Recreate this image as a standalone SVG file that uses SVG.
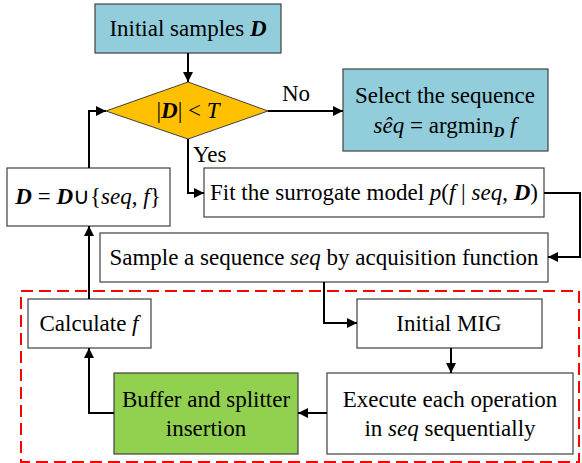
<svg xmlns="http://www.w3.org/2000/svg" width="582" height="463" viewBox="0 0 582 463">
<defs>
<marker id="ah" viewBox="0 0 10 10" refX="10" refY="5" markerWidth="10" markerHeight="10" markerUnits="userSpaceOnUse" orient="auto">
<path d="M0,0 L10,5 L0,10 Z" fill="#000"/>
</marker>
<style>
.box{stroke:#404040;stroke-width:1.2;fill:#fff}
.blue{fill:#92CDDC}
.green{fill:#92D050}
.t{font-family:"Liberation Serif","Times New Roman",serif;font-size:23px;fill:#000;text-anchor:middle}
.lb{font-family:"Liberation Serif","Times New Roman",serif;font-size:23px;fill:#000}
.i{font-style:italic}
.bi{font-style:italic;font-weight:bold}
.c{fill:none;stroke:#000;stroke-width:2}
</style>
</defs>
<rect x="21" y="291" width="558" height="171" fill="none" stroke="#FF0000" stroke-width="2" stroke-dasharray="12,6"/>
<g id="init">
<rect class="box blue" x="95" y="4" width="186" height="49"/>
<text class="t" x="188" y="36">Initial samples <tspan class="bi">D</tspan></text>
</g>
<g id="cond">
<polygon points="188,82 268,111 188,139 106,111" fill="#FFC000" stroke="#404040" stroke-width="1"/>
<text class="t" x="188" y="118">|<tspan class="bi">D</tspan>| &lt; <tspan class="i">T</tspan></text>
</g>
<g id="select">
<rect class="box blue" x="343" y="69" width="205" height="82"/>
<text class="t" x="445" y="103">Select the sequence</text>
<text class="t" x="445" y="133"><tspan class="i">se&#770;q</tspan> = argmin<tspan class="bi" font-size="15" dy="4">D</tspan><tspan dy="-4"> </tspan><tspan class="i">f</tspan></text>
</g>
<g id="update">
<rect class="box" x="7" y="168" width="163" height="58"/>
<text class="t" x="88" y="204"><tspan class="bi">D</tspan> = <tspan class="bi">D</tspan>∪{<tspan class="i">seq</tspan>, <tspan class="i">f</tspan>}</text>
</g>
<g id="fit">
<rect class="box" x="204" y="168" width="340" height="49"/>
<text class="t" x="374" y="200">Fit the surrogate model <tspan class="i">p</tspan>(<tspan class="i">f</tspan> | <tspan class="i">seq</tspan>, <tspan class="bi">D</tspan>)</text>
</g>
<g id="sample">
<rect class="box" x="100" y="233" width="448" height="49"/>
<text class="t" x="324" y="265">Sample a sequence <tspan class="i">seq</tspan> by acquisition function</text>
</g>
<g id="calc">
<rect class="box" x="28" y="299" width="123" height="49"/>
<text class="t" x="89" y="331">Calculate <tspan class="i">f</tspan></text>
</g>
<g id="mig">
<rect class="box" x="357" y="299" width="185" height="49"/>
<text class="t" x="449" y="331">Initial MIG</text>
</g>
<g id="exec">
<rect class="box" x="327" y="373" width="246" height="81"/>
<text class="t" x="450" y="407">Execute each operation</text>
<text class="t" x="450" y="436">in <tspan class="i">seq</tspan> sequentially</text>
</g>
<g id="buffer">
<rect class="box green" x="114" y="373" width="184" height="81"/>
<text class="t" x="206" y="407">Buffer and splitter</text>
<text class="t" x="206" y="436">insertion</text>
</g>
<g id="connectors">
<path class="c" d="M188,53 V82" marker-end="url(#ah)"/>
<path class="c" d="M268,111 H343" marker-end="url(#ah)"/>
<text class="lb" x="282" y="101">No</text>
<path class="c" d="M188,139 V193 H204" marker-end="url(#ah)"/>
<text class="lb" x="193" y="162">Yes</text>
<path class="c" d="M89,168 V111 H106" marker-end="url(#ah)"/>
<path class="c" d="M544,193 H580 V257 H548" marker-end="url(#ah)"/>
<path class="c" d="M324,282 V323 H357" marker-end="url(#ah)"/>
<path class="c" d="M451,348 V373" marker-end="url(#ah)"/>
<path class="c" d="M327,413 H298" marker-end="url(#ah)"/>
<path class="c" d="M114,413 H89 V348" marker-end="url(#ah)"/>
<path class="c" d="M89,299 V226" marker-end="url(#ah)"/>
</g>
</svg>
